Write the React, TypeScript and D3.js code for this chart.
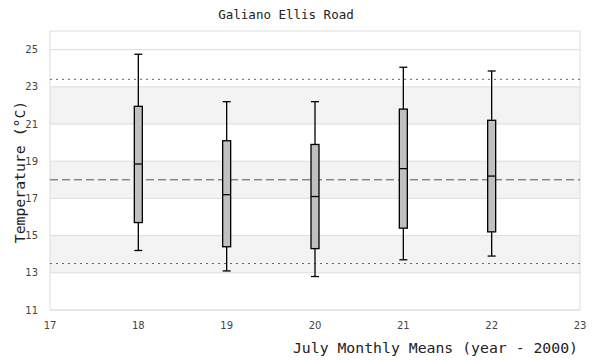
import React from "react";
import * as d3 from "d3";

const years = [18, 19, 20, 21, 22];
const whiskerLow = [14.2, 13.1, 12.8, 13.7, 13.9];
const q1 = [15.7, 14.4, 14.3, 15.4, 15.2];
const median = [18.85, 17.2, 17.1, 18.6, 18.2];
const q3 = [21.95, 20.1, 19.9, 21.8, 21.2];
const whiskerHigh = [24.75, 22.2, 22.2, 24.05, 23.85];

const xTicks = [17, 18, 19, 20, 21, 22, 23];
const yTicks = [11, 13, 15, 17, 19, 21, 23, 25];
const bands = [[13, 15], [17, 19], [21, 23]];
const refDotted = [23.4, 13.5];
const refDashed = [18.0];

const W = 600, H = 360;
const M = { left: 50, right: 20, top: 31, bottom: 50 };

export default function App() {
  const x = d3.scaleLinear().domain([17, 23]).range([M.left, W - M.right]);
  const y = d3.scaleLinear().domain([11, 26]).range([H - M.bottom, M.top]);
  const x0 = M.left, x1 = W - M.right, y0 = M.top, y1 = H - M.bottom;
  const bw = 8;
  const mono = "'DejaVu Sans Mono', monospace";
  const sans = "'DejaVu Sans', sans-serif";
  return (
    <svg width={W} height={H} style={{ position: "absolute", left: 0, top: 0 }}>
      <rect x={0} y={0} width={W} height={H} fill="#fff" />
      {bands.map(([a, b], i) => (
        <rect key={"b" + i} x={x0} width={x1 - x0} y={y(b)} height={y(a) - y(b)} fill="#f3f3f3" />
      ))}
      {yTicks.map((t) => (
        <line key={"g" + t} x1={x0} x2={x1} y1={y(t)} y2={y(t)} stroke="#dddddd" strokeWidth={1} />
      ))}
      <rect x={x0} y={y0} width={x1 - x0} height={y1 - y0} fill="none" stroke="#dddddd" strokeWidth={1} />
      {refDotted.map((v) => (
        <line key={"d" + v} x1={x0} x2={x1} y1={y(v)} y2={y(v)} stroke="#666" strokeWidth={1} strokeDasharray="2,4" />
      ))}
      {refDashed.map((v) => (
        <line key={"m" + v} x1={x0} x2={x1} y1={y(v)} y2={y(v)} stroke="#555" strokeWidth={1} strokeDasharray="8,4" />
      ))}
      {years.map((yr, i) => {
        const cx = x(yr);
        return (
          <g key={"box" + yr} stroke="#000" strokeWidth={1.3}>
            <line x1={cx} x2={cx} y1={y(whiskerHigh[i])} y2={y(whiskerLow[i])} />
            <line x1={cx - bw / 2} x2={cx + bw / 2} y1={y(whiskerHigh[i])} y2={y(whiskerHigh[i])} />
            <line x1={cx - bw / 2} x2={cx + bw / 2} y1={y(whiskerLow[i])} y2={y(whiskerLow[i])} />
            <rect x={cx - bw / 2} width={bw} y={y(q3[i])} height={y(q1[i]) - y(q3[i])} fill="#c0c0c0" />
            <line x1={cx - bw / 2} x2={cx + bw / 2} y1={y(median[i])} y2={y(median[i])} />
          </g>
        );
      })}
      {yTicks.map((t) => (
        <text key={"yt" + t} x={x0 - 12} y={y(t)} dy="0.35em" textAnchor="end" fontFamily={sans} fontSize={10} fill="#444">
          {t}
        </text>
      ))}
      {xTicks.map((t) => (
        <text key={"xt" + t} x={x(t)} y={y1 + 15} dy="0.35em" textAnchor="middle" fontFamily={sans} fontSize={10} fill="#444">
          {t}
        </text>
      ))}
      <text x={286} y={15} dy="0.35em" textAnchor="middle" fontFamily={mono} fontSize={12.5} fill="#222">
        Galiano Ellis Road
      </text>
      <text x={578} y={348} dy="0.35em" textAnchor="end" fontFamily={mono} fontSize={14.8} fill="#222">
        July Monthly Means (year - 2000)
      </text>
      <text transform={`translate(20,172) rotate(-90)`} dy="0.35em" textAnchor="middle" fontFamily={mono} fontSize={14.8} fill="#222">
        Temperature (°C)
      </text>
    </svg>
  );
}
